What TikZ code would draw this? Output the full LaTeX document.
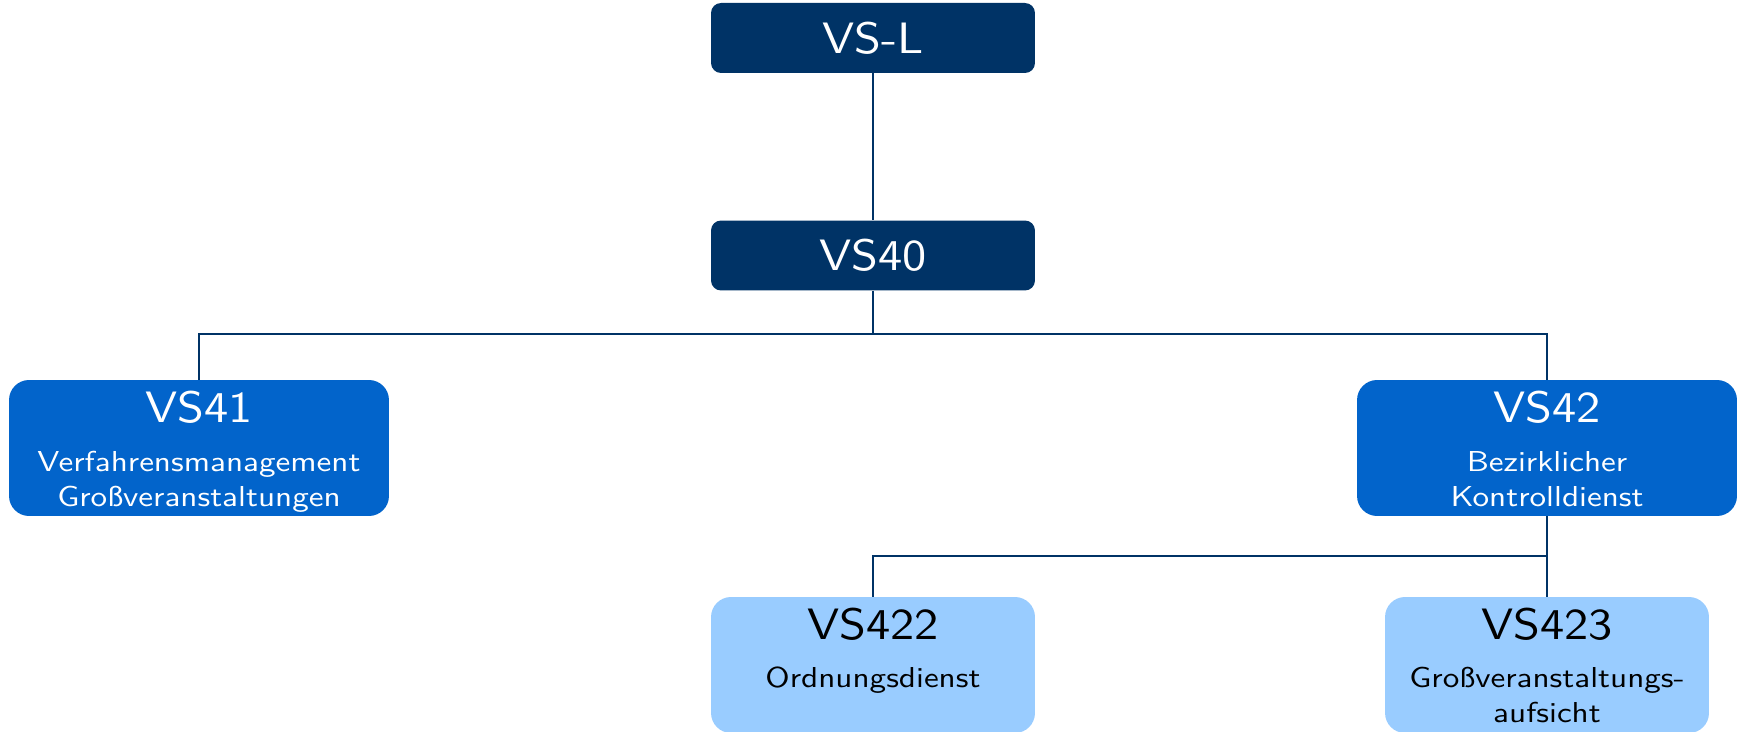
\documentclass[tikz,border=0pt]{standalone}
\usepackage{fontspec}
\usetikzlibrary{positioning,calc}
\newfontfamily\vstitlefont{lmsans10-regular.otf}[FakeStretch=1.1]
\newfontfamily\vssubfont{lmsans10-regular.otf}[FakeStretch=1.15]
\definecolor{vsdark}{RGB}{0,51,102}
\definecolor{vsmid}{RGB}{2,100,203}
\definecolor{vslight}{RGB}{153,204,255}

\begin{document}
\begin{tikzpicture}[x=0.02cm,y=-0.02cm,
        topbox/.style={fill=vsdark,rounded corners=0.2cm,minimum width=6.48cm,minimum height=1.4cm,inner sep=0pt,text=white,font=\vstitlefont\fontsize{25}{30}\selectfont},
        midbox/.style={fill=vsmid,rounded corners=0.4cm,minimum width=7.6cm,minimum height=2.72cm,inner sep=0pt},
        lowbox/.style={fill=vslight,rounded corners=0.4cm,minimum width=6.48cm,minimum height=2.72cm,inner sep=0pt},
        title/.style={anchor=base,inner sep=0pt,font=\vstitlefont\fontsize{25}{30}\selectfont},
        sub/.style={anchor=base,align=center,inner sep=0pt,font=\vssubfont\fontsize{16.4}{19.9}\selectfont},
        link/.style={draw=vsdark,line width=1pt}]
        \useasboundingbox (0,0) rectangle (1741,732);

        \node[topbox] at (873,38) (vsl) {VS-L};
        \node[topbox] at (873,255.5) (vs40) {VS40};
        \node[midbox] at (199,448) (vs41) {};
        \node[midbox] at (1547,448) (vs42) {};
        \node[lowbox] at (873,665) (vs422) {};
        \node[lowbox] at (1547,665) (vs423) {};

        % base of a two-line text is its last line
        \node[title,text=white] at ($(vs41.north)+(0,43)$) (vs41t) {VS41};
        \node[sub,text=white] at ($(vs41.north)+(0,127)$) (vs41s) {Verfahrensmanagement\\Großveranstaltungen};
        \node[title,text=white] at ($(vs42.north)+(0,43)$) (vs42t) {VS42};
        \node[sub,text=white] at ($(vs42.north)+(0,127)$) (vs42s) {Bezirklicher\\Kontrolldienst};
        \node[title] at ($(vs422.north)+(0,43)$) (vs422t) {VS422};
        \node[sub] at ($(vs422.north)+(0,91)$) (vs422s) {Ordnungsdienst};
        \node[title] at ($(vs423.north)+(0,43)$) (vs423t) {VS423};
        \node[sub] at ($(vs423.north)+(0,126)$) (vs423s) {Großveranstaltungs-\\aufsicht};

        \coordinate (bus1) at (0,334);
        \coordinate (bus2) at (0,556);
        \draw[link] (vsl) -- (vs40);
        \draw[link] (vs40.south) -- (vs40.south |- bus1) -| (vs41.north);
        \draw[link] (vs40.south) -- (vs40.south |- bus1) -| (vs42.north);
        \draw[link] (vs42.south) -- (vs42.south |- bus2) -| (vs422.north);
        \draw[link] (vs42.south) -- (vs423.north);
      \end{tikzpicture}
\end{document}
